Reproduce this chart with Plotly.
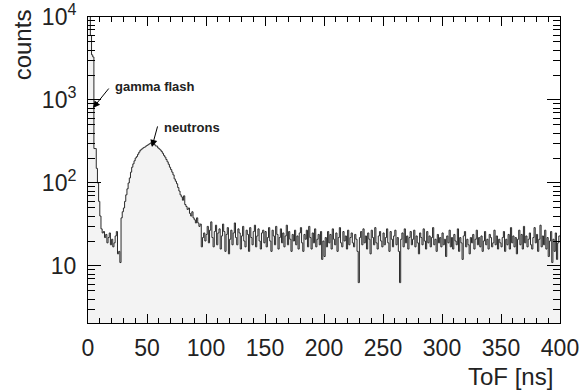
import math
import plotly.graph_objects as go

# ---- data (1 ns bins, 0..400 ns) ----
bin_width = 1
x_min, x_max = 0, 400

counts_head = [
    12000, 15000, 6000, 3500, 3300, 260, 260, 150, 100, 60,
    40, 28, 25, 26, 22, 24, 19, 22, 25, 18,
    21, 17, 19, 23, 26, 14, 15, 11, 38, 45,
    50, 60, 72, 85, 100, 115, 135, 155, 170, 185,
    200, 208, 222, 235, 248, 255, 262, 268, 272, 280,
    285, 292, 298, 305, 285, 300, 290, 280, 278, 265,
    258, 250, 240, 228, 215, 205, 192, 180, 168, 155,
    145, 135, 125, 112, 105, 98, 88, 80, 72, 68,
    62, 70, 55, 52, 48, 50, 43, 40, 45, 38,
    36, 33, 38, 33, 30, 32, 17, 22, 25, 20,
]
counts_tail = [
    24, 30, 19, 27, 34, 22, 17, 26, 31, 18, 25, 28, 16, 23, 32, 26, 15, 24, 29, 14, 21, 27, 18, 25, 33,
    22, 18, 28, 25, 16, 23, 30, 20, 17, 27, 24, 15, 29, 22, 18, 26, 31, 17, 23, 28, 20, 16, 25, 27, 19,
    26, 17, 22, 29, 20, 15, 27, 23, 18, 30, 24, 16, 22, 28, 19, 25, 17, 23, 31, 18, 26, 21, 15, 24, 20,
    27, 18, 23, 16, 25, 29, 19, 15, 24, 21, 27, 17, 30, 22, 16, 25, 19, 28, 17, 21, 24, 18, 26, 12, 20,
    13, 22, 17, 26, 19, 24, 16, 28, 21, 18, 25, 15, 22, 29, 19, 17, 26, 20, 23, 16, 27, 18, 22, 25, 19,
    17, 24, 21, 15, 6.3, 22, 26, 18, 28, 19, 23, 16, 25, 21, 14, 27, 22, 18, 29, 19, 16, 23, 26, 20, 17,
    25, 18, 22, 28, 19, 15, 26, 21, 17, 23, 27, 18, 22, 15, 6.3, 21, 25, 17, 28, 19, 23, 16, 22, 26, 18,
    21, 27, 17, 23, 19, 14, 25, 22, 18, 28, 20, 16, 26, 19, 23, 17, 22, 29, 18, 21, 15, 24, 19, 22, 17,
    25, 18, 21, 13, 23, 19, 27, 17, 22, 16, 24, 20, 18, 28, 15, 22, 19, 12, 23, 26, 17, 21, 18, 14, 22,
    19, 24, 16, 21, 27, 18, 22, 17, 23, 15, 20, 26, 18, 21, 16, 24, 22, 17, 19, 27, 18, 23, 16, 21, 19,
    17, 22, 26, 15, 21, 18, 24, 16, 29, 19, 23, 17, 22, 14, 21, 27, 18, 24, 16, 30, 19, 23, 17, 21, 25,
    18, 16, 22, 29, 19, 24, 15, 21, 31, 17, 23, 18, 27, 16, 22, 13, 20, 26, 11, 21, 15, 25, 12, 19, 23,
]
counts = counts_head + counts_tail
assert len(counts) == 400

x_tick_vals = [0, 50, 100, 150, 200, 250, 300, 350, 400]
y_tick_vals = [10, 100, 1000, 10000]
y_tick_text = ["10", "10<sup>2</sup>", "10<sup>3</sup>", "10<sup>4</sup>"]

gamma_tip = (4.2, 800)
neutron_tip = (54.2, 272)

# ---- build step histogram ----
edges = [x_min + i * bin_width for i in range(len(counts) + 1)]
xs = edges[:-1] + [edges[-1]]
ys = counts + [counts[-1]]

fig = go.Figure()
fig.add_trace(go.Scatter(
    x=xs, y=ys, mode="lines", line_shape="hv",
    line=dict(color="#2a2a2a", width=1),
    fill="tozeroy", fillcolor="#f3f3f3",
    hoverinfo="skip", showlegend=False,
))

font_family = "Liberation Sans, Arial, Helvetica, sans-serif"
minor_y = [m * 10 ** d for d in range(0, 4) for m in range(2, 10)]

fig.update_layout(
    width=584, height=391,
    margin=dict(l=88, r=24, t=17, b=68, autoexpand=False),
    paper_bgcolor="white", plot_bgcolor="white",
    font=dict(family=font_family, color="black"),
    xaxis=dict(
        range=[x_min, x_max], tickvals=x_tick_vals, automargin=False,
        ticks="inside", ticklen=9, tickcolor="black", tickwidth=1,
        minor=dict(dtick=10, ticks="inside", ticklen=5, tickcolor="black", showgrid=False),
        showline=True, linecolor="black", linewidth=1, mirror="allticks",
        showgrid=False, zeroline=False,
        tickfont=dict(size=23, family=font_family, color="#222"),
        ticklabelstandoff=4,
    ),
    yaxis=dict(
        type="log", range=[0.313, 4.0], automargin=False,
        tickvals=y_tick_vals, ticktext=y_tick_text,
        ticks="inside", ticklen=13, tickcolor="black", tickwidth=1,
        minor=dict(tickvals=minor_y, ticks="inside", ticklen=7, tickcolor="black", showgrid=False),
        showline=True, linecolor="black", linewidth=1, mirror="allticks",
        showgrid=False, zeroline=False,
        tickfont=dict(size=23, family=font_family, color="#222"),
        ticklabelstandoff=6,
    ),
)

annotations = [
    dict(x=gamma_tip[0], y=math.log10(gamma_tip[1]), xref="x", yref="y",
         text="", showarrow=True, ax=17, ay=-21,
         arrowhead=2, arrowsize=1.4, arrowwidth=1, arrowcolor="black"),
    dict(x=21.2, y=math.log10(1436), xref="x", yref="y",
         text="<b>gamma flash</b>", showarrow=False, xanchor="left", yanchor="middle",
         font=dict(size=13, family=font_family, color="#222")),
    dict(x=neutron_tip[0], y=math.log10(neutron_tip[1]), xref="x", yref="y",
         text="", showarrow=True, ax=6, ay=-22,
         arrowhead=2, arrowsize=1.4, arrowwidth=1, arrowcolor="black"),
    dict(x=62.7, y=math.log10(460), xref="x", yref="y",
         text="<b>neutrons</b>", showarrow=False, xanchor="left", yanchor="middle",
         font=dict(size=13, family=font_family, color="#222")),
    dict(x=-0.14, y=1.033, xref="paper", yref="paper", text="counts",
         textangle=-90, showarrow=False, xanchor="center", yanchor="top",
         font=dict(size=24, family=font_family, color="#222")),
    dict(x=0.989, y=-0.176, xref="paper", yref="paper", text="ToF [ns]",
         showarrow=False, xanchor="right", yanchor="middle",
         font=dict(size=24, family=font_family, color="#222")),
]
fig.update_layout(annotations=annotations)

fig.write_html(
    "out.html",
    config={"displayModeBar": False},
    post_script="document.body.style.margin='0';document.body.style.overflow='hidden';",
)
